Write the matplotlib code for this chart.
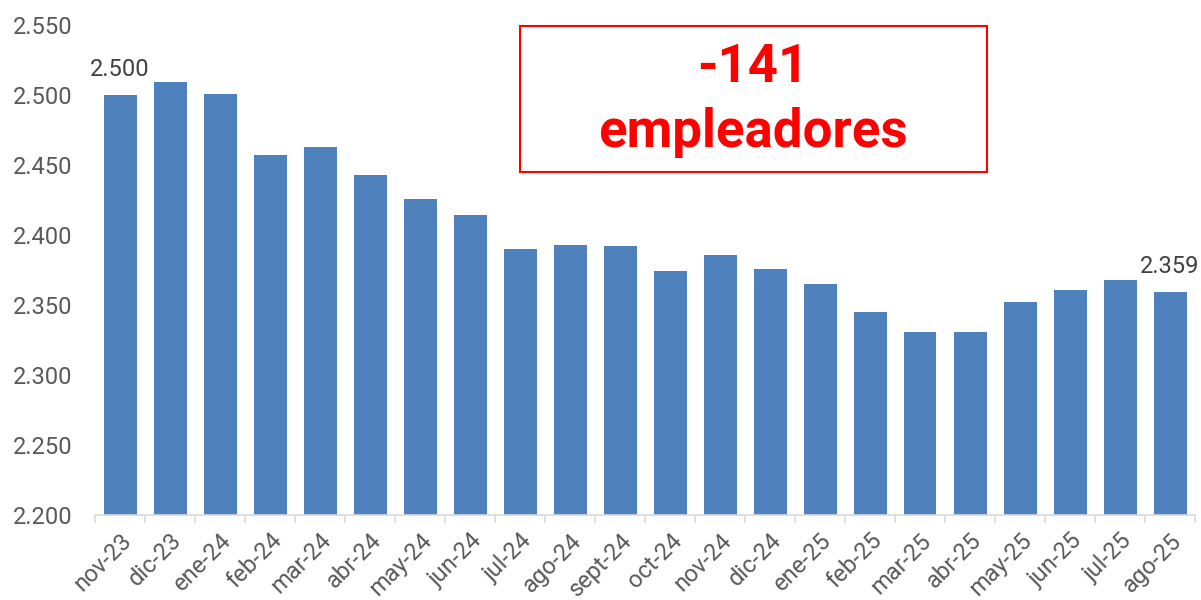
import matplotlib.pyplot as plt
import numpy as np

meses = ['nov-23', 'dic-23', 'ene-24', 'feb-24', 'mar-24', 'abr-24', 'may-24',
         'jun-24', 'jul-24', 'ago-24', 'sept-24', 'oct-24', 'nov-24', 'dic-24',
         'ene-25', 'feb-25', 'mar-25', 'abr-25', 'may-25', 'jun-25', 'jul-25', 'ago-25']
empleadores = [2500, 2509, 2501, 2457, 2463, 2443, 2426, 2414, 2390, 2393, 2392,
               2374, 2386, 2376, 2365, 2345, 2331, 2331, 2352, 2361, 2368, 2359]
etiquetas = {0: '2.500', 21: '2.359'}
y_ticks = [2200, 2250, 2300, 2350, 2400, 2450, 2500, 2550]

plt.rcParams['font.family'] = ['Roboto', 'DejaVu Sans']

fig = plt.figure(figsize=(12.01, 6.0), dpi=100)
ax = fig.add_axes([95 / 1201, 1 - 515 / 600, 1100 / 1201, 490 / 600])

x = np.arange(len(meses))
ax.bar(x, empleadores, width=0.66, color='#4F81BD', zorder=2)

ax.set_xlim(-0.5, len(meses) - 0.5)
ax.set_ylim(2200, 2550)
ax.set_yticks(y_ticks)
ax.set_yticklabels([f'{v / 1000:.3f}' for v in y_ticks], fontsize=17, color='#595959')
ax.tick_params(axis='y', length=0, pad=16)

ax.set_xticks(x)
ax.set_xticklabels(meses, rotation=45, ha='right', rotation_mode='anchor',
                   fontsize=17, color='#595959')
ax.set_xticks(np.arange(-0.5, len(meses)), minor=True)
ax.tick_params(axis='x', which='major', length=0, pad=10)
ax.tick_params(axis='x', which='minor', length=6, width=1.2, color='#D9D9D9')

for s in ['top', 'right', 'left']:
    ax.spines[s].set_visible(False)
ax.spines['bottom'].set_color('#D9D9D9')
ax.spines['bottom'].set_linewidth(1.2)

for i, txt in etiquetas.items():
    ax.text(x[i], empleadores[i] + 10, txt, ha='center', va='bottom',
            fontsize=17, color='#404040')

# caja con el total
box = plt.Rectangle((520 / 1201, 1 - 172 / 600), 467 / 1201, 146 / 600,
                    transform=fig.transFigure, fill=False, edgecolor='#FF0000',
                    linewidth=1.5)
fig.patches.append(box)
fig.text(753 / 1201, 1 - 68 / 600, '-141', ha='center', va='center',
         fontsize=38, fontweight='bold', color='#FF0000')
fig.text(753 / 1201, 1 - 132 / 600, 'empleadores', ha='center', va='center',
         fontsize=38, fontweight='bold', color='#FF0000')

fig.savefig('out.png', dpi=100)
